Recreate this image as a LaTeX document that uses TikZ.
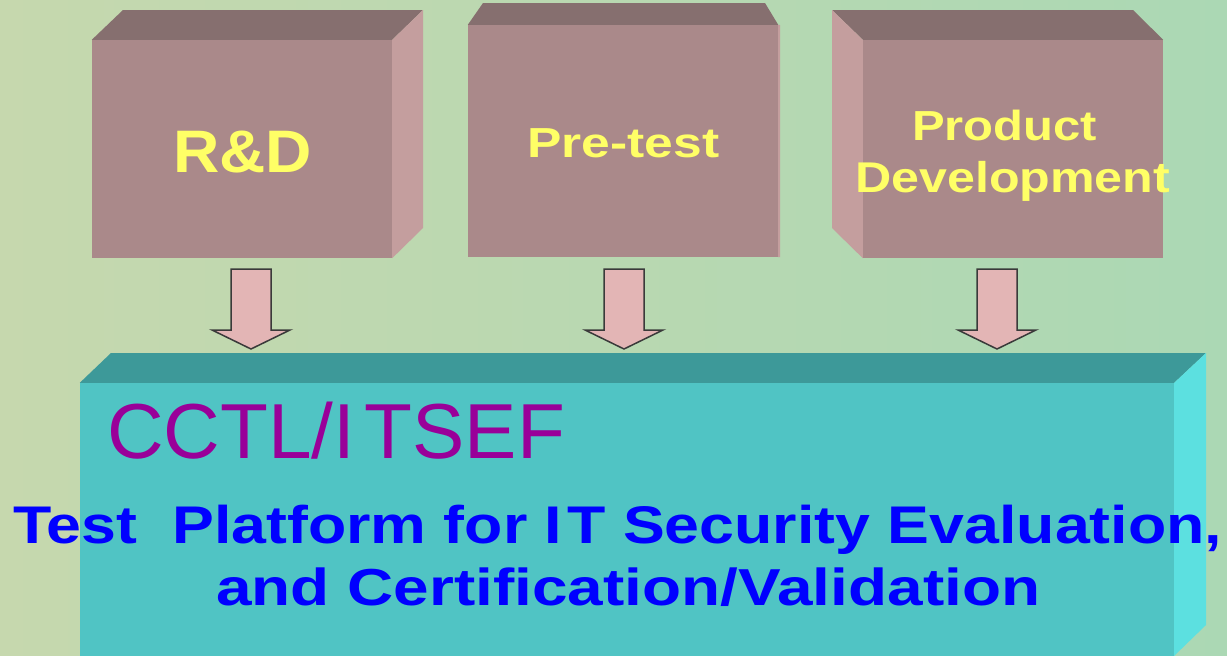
\documentclass[tikz,border=0pt]{standalone}
\usepackage{fontspec}
\setmainfont{Liberation Sans}
\usepackage{graphicx}
\definecolor{bgL}{HTML}{C6D8AE}
\definecolor{bgM}{HTML}{B4D6A8}
\definecolor{bgR}{HTML}{ABD8B4}
\definecolor{boxFront}{HTML}{AA898A}
\definecolor{boxTop}{HTML}{866F6F}
\definecolor{boxSide}{HTML}{C49E9E}
\definecolor{platFront}{HTML}{50C4C4}
\definecolor{platTop}{HTML}{3D9999}
\definecolor{platSide}{HTML}{5CE0E0}
\definecolor{arrowFill}{HTML}{E3B5B5}
\definecolor{arrowLine}{HTML}{3A3A3A}
\definecolor{txtYellow}{HTML}{FFFF66}
\definecolor{txtBlue}{HTML}{0000FF}
\definecolor{txtMagenta}{HTML}{990099}
\begin{document}
\begin{tikzpicture}[x=1pt,y=-1pt,
  frontface/.style={draw=none,fill=boxFront,inner sep=0pt,rectangle},
  topface/.style={fill=boxTop},
  sideface/.style={fill=boxSide},
  platfront/.style={draw=none,fill=platFront,inner sep=0pt,rectangle},
  blockarrow/.style={fill=arrowFill,draw=arrowLine,line width=1.5pt,line join=miter},
  ylabel/.style={inner sep=0pt,anchor=base west,text=txtYellow,font=\bfseries},
  blabel/.style={inner sep=0pt,anchor=base west,text=txtBlue,font=\bfseries},
  mlabel/.style={inner sep=0pt,anchor=base west,text=txtMagenta}]
\useasboundingbox (0,0) rectangle (1227,656);
% background
\shade[left color=bgL,middle color=bgM,right color=bgR] (0,0) rectangle (1227,656);

% R&D box
\node[frontface,minimum width=300pt,minimum height=218pt] (rd) at (242,149) {};
\fill[topface] (rd.north west) -- (123,10) -- (423,10) -- (rd.north east) -- cycle;
\fill[sideface] (rd.north east) -- (423,10) -- (423,228) -- (rd.south east) -- cycle;

% Pre-test box
\node[frontface,minimum width=310pt,minimum height=232pt] (pt) at (623,141) {};
\fill[topface] (pt.north west) -- (483,3) -- (765,3) -- (pt.north east) -- cycle;
\fill[sideface] (pt.north east) -- (780,25) -- (780,257) -- (pt.south east) -- cycle;

% Product Development box
\node[frontface,minimum width=300pt,minimum height=218pt] (pd) at (1013,149) {};
\fill[topface] (832,10) -- (1133,10) -- (pd.north east) -- (pd.north west) -- cycle;
\fill[sideface] (832,10) -- (pd.north west) -- (pd.south west) -- (832,228) -- cycle;

% Platform box
\node[platfront,minimum width=1094pt,minimum height=280pt] (cc) at (627,523) {};
\fill[platTop] (cc.north west) -- (111,353) -- (1206,353) -- (cc.north east) -- cycle;
\fill[platSide] (cc.north east) -- (1206,353) -- (1206,625) -- (1174,656) -- cycle;

% arrows
\foreach \cx in {251,624,997}{
  \draw[blockarrow] (\cx-20,269) -- (\cx+20,269) -- (\cx+20,330) -- (\cx+39,330)
    -- (\cx,349) -- (\cx-39,330) -- (\cx-20,330) -- cycle;
}

% labels
\node[ylabel,font=\bfseries\fontsize{60}{60}\selectfont] (trd) at (173,172)
  {\resizebox{139pt}{\height}{R\&D}};
\node[ylabel,font=\bfseries\fontsize{42}{42}\selectfont] (tpt) at (527,157)
  {\resizebox{192pt}{\height}{Pre-test}};
\node[ylabel,font=\bfseries\fontsize{42}{42}\selectfont] (tpd1) at (912,140)
  {\resizebox{185pt}{\height}{Product}};
\node[ylabel,font=\bfseries\fontsize{43}{43}\selectfont] (tpd2) at (855,192)
  {\resizebox{315pt}{\height}{Development}};
\node[mlabel,font=\fontsize{78}{78}\selectfont] (tcc) at (107,458)
  {\resizebox{458pt}{\height}{CCTL/I\kern0.12em TSEF}};
\node[blabel,font=\bfseries\fontsize{53}{53}\selectfont] (tl1) at (13,543)
  {\resizebox{1209pt}{\height}{Test\ \ Platform for I\kern0.08em T Security Evaluation,}};
\node[blabel,font=\bfseries\fontsize{52}{52}\selectfont] (tl2) at (216,605)
  {\resizebox{824pt}{\height}{and Certification/Validation}};
\end{tikzpicture}
\end{document}
